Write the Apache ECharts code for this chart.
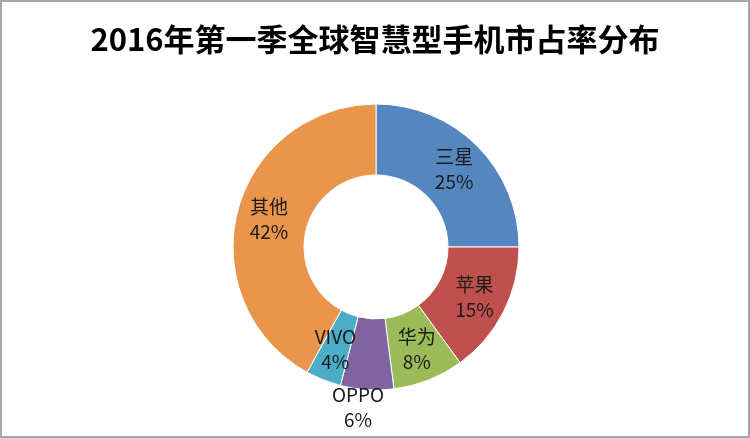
<!DOCTYPE html>
<html>
<head>
<meta charset="utf-8">
<script src="https://cdn.jsdelivr.net/npm/echarts@6/dist/echarts.min.js"></script>
<style>
html, body { margin: 0; padding: 0; background: #fff; }
#market-share { width: 750px; height: 438px; box-sizing: border-box; border: 2px solid #a6a6a6; }
</style>
</head>
<body>
<div id="market-share"></div>
<script>
// 数据
var brands = ['三星', '苹果', '华为', 'OPPO', 'VIVO', '其他'];
var shares = [25, 15, 8, 6, 4, 42];
var colors = ['#5586BF', '#C0504D', '#9BBB59', '#8064A2', '#4BACC6', '#E9964C'];

// 基于准备好的dom，初始化echarts实例
var shareChart = echarts.init(document.getElementById('market-share'));

var pieData = [];
for (var i = 0; i < brands.length; i++) {
	var item = {value: shares[i], name: brands[i], itemStyle: {color: colors[i]}};
	// OPPO 标签放在环外
	if (brands[i] == 'OPPO') {
		item.label = {offset: [-11, 50]};
	}
	pieData.push(item);
}

var option = {
	title: {
		text: '2016年第一季全球智慧型手机市占率分布',
		left: 'center',
		top: 17,
		textStyle: {
			fontFamily: 'Noto Sans CJK SC',
			fontSize: 31,
			fontWeight: 'bold',
			color: '#000'
		}
	},
	series: [
		{
			name: '市占率',
			type: 'pie',
			radius: [72, 143],
			center: [374, 245],
			startAngle: 90,
			clockwise: true,
			avoidLabelOverlap: false,
			itemStyle: {
				borderColor: '#fff',
				borderWidth: 1
			},
			label: {
				show: true,
				position: 'inside',
				formatter: '{b}\n{c}%',
				fontFamily: 'Noto Sans CJK SC',
				fontSize: 19,
				lineHeight: 25,
				color: '#1a1a1a'
			},
			labelLine: {
				show: false
			},
			emphasis: {
				disabled: true
			},
			data: pieData
		}
	]
};

// 使用刚指定的配置项和数据显示图表。
shareChart.setOption(option);
</script>
</body>
</html>
